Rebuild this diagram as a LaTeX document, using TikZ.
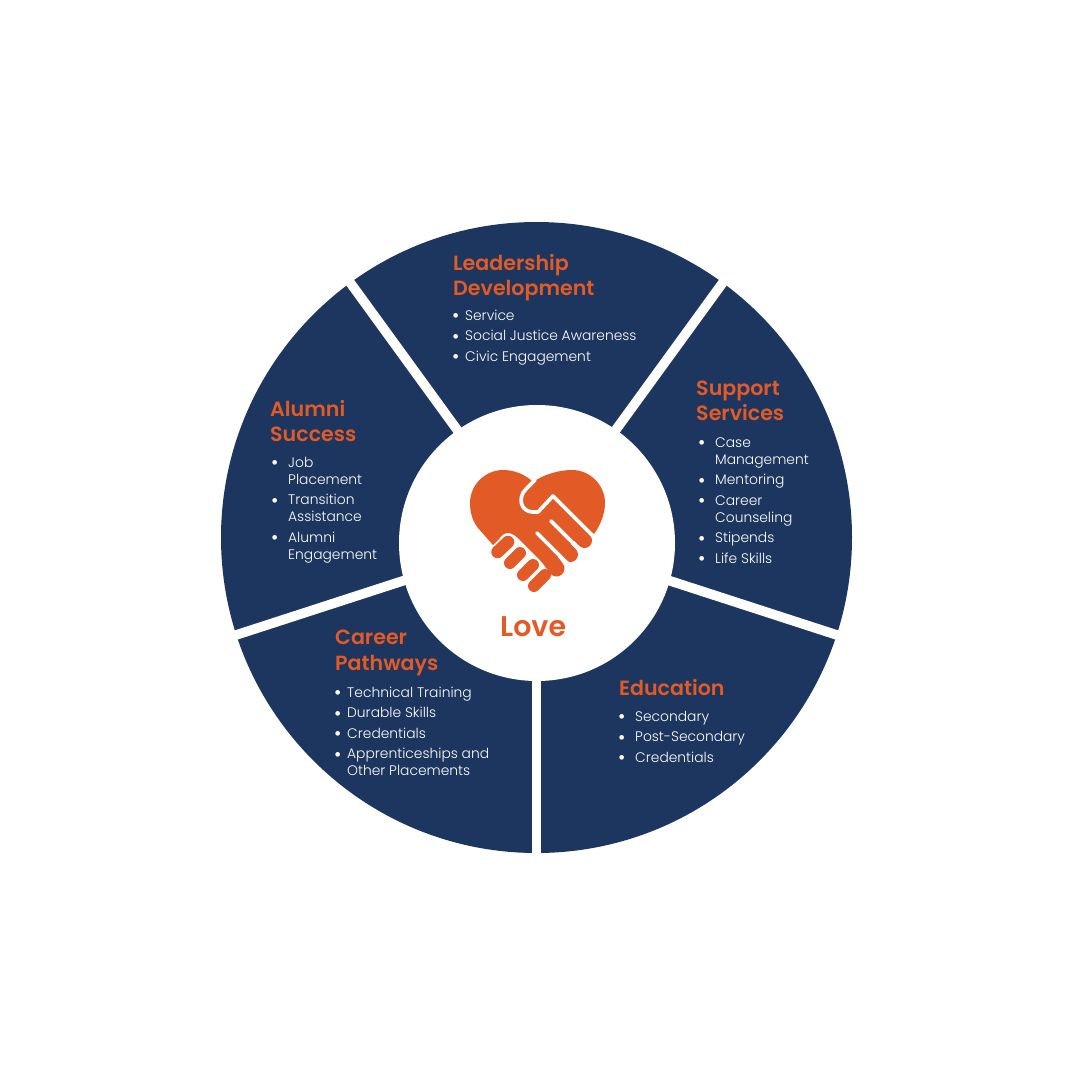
\documentclass[tikz,border=0pt]{standalone}
\usepackage{fontspec}
\setmainfont{Poppins}
\newfontfamily\itemfam{Poppins Light}
\newfontfamily\headfam{Poppins SemiBold}
\definecolor{navy}{HTML}{1D365F}
\definecolor{brand}{HTML}{E25A26}
\newcommand{\dotmark}{{\fontsize{20}{17}\selectfont\raisebox{-2.5pt}{•}}}
\newcommand{\bl}{\makebox[17pt][l]{\dotmark}}
\newcommand{\blb}{\makebox[13pt][l]{\dotmark}}
\tikzset{
  segment/.style={fill=navy},
  gapline/.style={draw=white,line width=9.6pt},
  heading/.style={anchor=base west,inner sep=0pt,text=brand,align=left,font=\headfam\fontsize{20.6}{25.5}\selectfont},
  items/.style={anchor=base west,inner sep=0pt,text=white,font=\itemfam\fontsize{13.85}{17}\selectfont},
  handline/.style={draw=white,line width=3.7pt,line cap=round,line join=round},
  finger/.style={draw=brand,line cap=round},
}
\begin{document}
\begin{tikzpicture}[x=1pt,y=-1pt]
\useasboundingbox (0,0) rectangle (1080,1080);
\fill[white] (0,0) rectangle (1080,1080);
% ring
\coordinate (c) at (536.5,537.5);
\coordinate (cu) at (536.5,539);
\fill[segment] (c) circle[radius=315.5pt];
\draw[gapline] (cu) -- (349,281) coordinate (s1);
\draw[gapline] (cu) -- (724,281) coordinate (s2);
\draw[gapline] (c) -- (840,636) coordinate (s3);
\draw[gapline] (c) -- (233,636) coordinate (s4);
\draw[gapline] (c) -- (536.5,856) coordinate (s5);
\fill[white] (537,543) circle[radius=138pt];
% heart and hands
\fill[brand] (493,545) -- (478,528) .. controls (473,522) and (470,513) .. (470,503)
  .. controls (470,485) and (485,470) .. (503,470)
  .. controls (515,470) and (526,475) .. (533,482)
  .. controls (543,475) and (558,470) .. (572,470)
  .. controls (590,470) and (605,485) .. (605,503)
  .. controls (605,514) and (600,526) .. (594,534)
  -- (586.5,528.5) -- (547.5,567.5) -- (520,540)
  .. controls (516,536) and (512,533) .. (508,533)
  .. controls (504,533) and (501,536) .. (499,539) -- cycle;
\draw[finger,line width=15pt] (572,528) -- (584.5,540.5);
\draw[finger,line width=15pt] (557,541) -- (570.5,554.5);
\draw[finger,line width=16pt] (545,553) -- (556.5,568.5);
\draw[handline] (535,480) -- (526,489) .. controls (517,498) and (521,512) .. (533,512)
  -- (538,512) -- (553,496) -- (597,540);
\draw[handline] (551,521) -- (586,556);
\draw[handline] (537,533) -- (572,568);
\draw[finger,line width=12.5pt] (497.5,552) -- (508,542);
\draw[finger,line width=12pt] (510,563) -- (520,553);
\draw[finger,line width=12pt] (523,575) -- (533,565);
\draw[finger,line width=12pt] (534,586) -- (545,575);
% texts
\node[heading] (lovet) at (500,636) {\fontsize{28.5}{30}\selectfont Love};
\node[heading] (lead) at (453,295.5) {Leadership\\Development};
\node[items] (leadi) at (452,320) {\begin{tabular}[t]{@{}l@{}l@{}}
\blb&Service\\[3.5pt] \blb&Social Justice Awareness\\[3.5pt] \blb&Civic Engagement\end{tabular}};
\node[heading] (supp) at (696,420.5) {Support\\Services};
\node[items] (suppi) at (698,447) {\begin{tabular}[t]{@{}l@{}l@{}}
\bl&Case\\ &Management\\[3.5pt] \bl&Mentoring\\[3.5pt] \bl&Career\\ &Counseling\\[3.5pt] \bl&Stipends\\[3.5pt] \bl&Life Skills\end{tabular}};
\node[heading] (alum) at (270,441.5) {Alumni\\Success};
\node[items] (alumi) at (271,467) {\begin{tabular}[t]{@{}l@{}l@{}}
\bl&Job\\ &Placement\\[3.5pt] \bl&Transition\\ &Assistance\\[3.5pt] \bl&Alumni\\ &Engagement\end{tabular}};
\node[heading] (care) at (335,670) {Career\\Pathways};
\node[items] (carei) at (334,697) {\begin{tabular}[t]{@{}l@{}l@{}}
\blb&Technical Training\\[3.5pt] \blb&Durable Skills\\[3.5pt] \blb&Credentials\\[3.5pt] \blb&Apprenticeships and\\ &Other Placements\end{tabular}};
\node[heading] (educ) at (619,695) {Education};
\node[items] (educi) at (618,721) {\begin{tabular}[t]{@{}l@{}l@{}}
\bl&Secondary\\[3.5pt] \bl&Post-Secondary\\[3.5pt] \bl&Credentials\end{tabular}};
\end{tikzpicture}
\end{document}
